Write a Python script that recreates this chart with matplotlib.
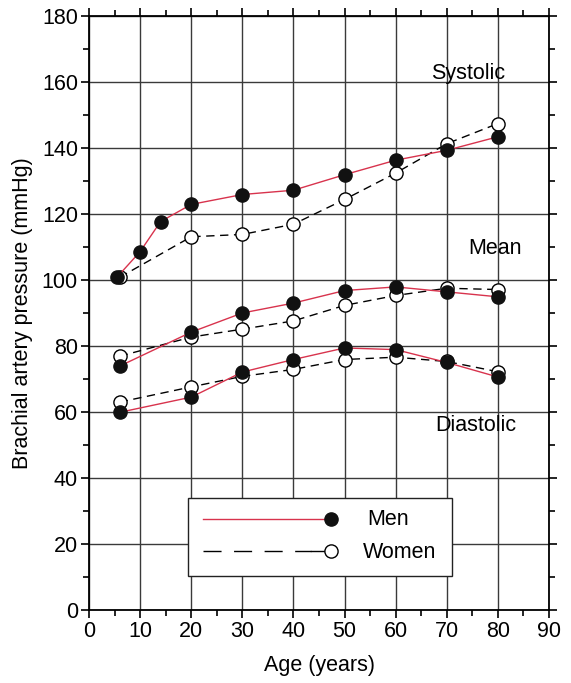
import matplotlib
matplotlib.use("Agg")
import matplotlib.pyplot as plt
from matplotlib.patches import Rectangle

plt.rcParams['font.family'] = ['Liberation Sans', 'DejaVu Sans']

# Ages
men_sys_x = [5.5, 10, 14, 20, 30, 40, 50, 60, 70, 80]
men_sys_y = [100.9, 108.6, 117.7, 122.9, 125.9, 127.2, 131.9, 136.3, 139.3, 143.4]
women_sys_x = [6, 20, 30, 40, 50, 60, 70, 80]
women_sys_y = [100.8, 113.1, 113.8, 116.9, 124.4, 132.4, 141.3, 147.4]

ages = [6, 20, 30, 40, 50, 60, 70, 80]
men_mean = [73.9, 84.2, 90.0, 93.0, 96.8, 97.9, 96.4, 94.9]
women_mean = [76.9, 82.7, 85.1, 87.6, 92.3, 95.3, 97.5, 97.1]
men_dia = [59.9, 64.5, 72.1, 75.9, 79.4, 78.9, 75.0, 70.6]
women_dia = [63.0, 67.6, 70.8, 72.9, 75.9, 76.6, 75.3, 72.2]

x_ticks = [0, 10, 20, 30, 40, 50, 60, 70, 80, 90]
y_ticks = [0, 20, 40, 60, 80, 100, 120, 140, 160, 180]

RED = '#d8334d'
FS = 15.5

fig = plt.figure(figsize=(5.71, 6.83), dpi=100)
ax = fig.add_axes([0.1559, 0.1069, 0.8056, 0.8697])
ax.set_xlim(0, 90)
ax.set_ylim(0, 180)
ax.set_xticks(x_ticks)
ax.set_yticks(y_ticks)
ax.set_xticks(range(5, 90, 10), minor=True)
ax.set_yticks(range(10, 180, 20), minor=True)
ax.grid(True, which='major', color='#3a3a3a', lw=1.0, zorder=0)
ax.set_axisbelow(True)
for s in ax.spines.values():
    s.set_linewidth(1.3)
ax.tick_params(which='both', direction='out', top=True, right=True,
               labelsize=FS, width=1.2)
ax.tick_params(which='major', length=6, pad=2)
ax.tick_params(which='minor', length=4)
ax.set_xlabel('Age (years)', fontsize=FS, labelpad=9)
ax.set_ylabel('Brachial artery pressure (mmHg)', fontsize=FS, labelpad=6)

ms = 9.5
wkw = dict(color='black', lw=1.0, dashes=(6, 4), marker='o', markersize=ms,
           markerfacecolor='white', markeredgecolor='black', markeredgewidth=1.0, zorder=3)
mkw = dict(color=RED, lw=1.0, marker='o', markersize=ms,
           markerfacecolor='#111111', markeredgecolor='#111111', zorder=4)

ax.plot(women_sys_x, women_sys_y, **wkw)
ax.plot(ages, women_mean, **wkw)
ax.plot(ages, women_dia, **wkw)
ax.plot(men_sys_x, men_sys_y, **mkw)
ax.plot(ages, men_mean, **mkw)
ax.plot(ages, men_dia, **mkw)

ax.text(74.2, 162.5, 'Systolic', fontsize=FS, ha='center', va='center')
ax.text(79.5, 109.5, 'Mean', fontsize=FS, ha='center', va='center')
ax.text(75.7, 56, 'Diastolic', fontsize=FS, ha='center', va='center')

# legend box
ax.add_patch(Rectangle((19.4, 10.3), 51.6, 23.6, facecolor='white',
                       edgecolor='#222222', lw=1.0, zorder=5))
ax.plot([22.3, 47.4], [27.6, 27.6], color=RED, lw=1.0, zorder=6)
ax.plot([47.4], [27.6], 'o', markersize=ms, markerfacecolor='#111111',
        markeredgecolor='#111111', zorder=7)
ax.plot([22.3, 43.5], [17.9, 17.9], color='black', lw=1.0, dashes=(13, 9), zorder=6)
ax.plot([43.5, 47.4], [17.9, 17.9], color='black', lw=1.0, zorder=6)
ax.plot([47.4], [17.9], 'o', markersize=ms, markerfacecolor='white',
        markeredgecolor='black', markeredgewidth=1.0, zorder=7)
ax.text(54.4, 27.4, 'Men', fontsize=FS, ha='left', va='center', zorder=7)
ax.text(53.6, 17.5, 'Women', fontsize=FS, ha='left', va='center', zorder=7)

fig.savefig('out.png', dpi=100)
